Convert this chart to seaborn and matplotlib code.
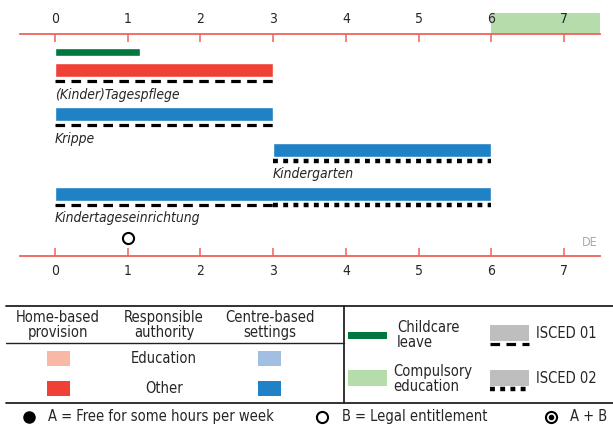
import numpy as np
import matplotlib
matplotlib.use("Agg")
import matplotlib.pyplot as plt
from matplotlib.patches import Rectangle
import seaborn as sns

# ---- data -------------------------------------------------------------
years = list(range(0, 8))
childcare_leave = (0, 1.17)          # age range in years
compulsory_start = 6

settings = ['(Kinder)Tagespflege', 'Krippe', 'Kindergarten', 'Kindertageseinrichtung']
start_age = [0, 0, 3, 0]
end_age = [3, 3, 6, 6]
setting_kind = ['home', 'centre', 'centre', 'centre']   # all "Other" authority
isced01 = [(0, 3), (0, 3), None, (0, 3)]
isced02 = [None, None, (3, 6), (3, 6)]
legal_entitlement_age = 1
country = 'DE'

# ---- styling ----------------------------------------------------------
RED = '#EF4136'
BLUE = '#1F82C6'
LIGHT_RED = '#F7B9A4'
LIGHT_BLUE = '#A3BEE3'
DARK_GREEN = '#00773F'
LIGHT_GREEN = '#B5DCAA'
GREY = '#BEBEBF'
AXIS_RED = '#F0625A'
kind_color = {'home': RED, 'centre': BLUE}

DASH = dict(lw=2.3, ls=(0, (3.0, 2.0)))
DOT = dict(lw=3.2, ls=(0, (1.1, 1.2)))

sns.set_theme(style='white')
plt.rcParams['font.family'] = ['DejaVu Sans']
plt.rcParams['font.stretch'] = 'condensed'

W, H = 613, 425
fig = plt.figure(figsize=(W / 100, H / 100), dpi=100)

# chart axes: y in pixel-like units (top spine at 34, bottom spine at 256)
y_top, y_bot = 34, 256
ax = fig.add_axes([0, 1 - y_bot / H, 1, (y_bot - y_top) / H])
px_per_year = (564 - 55) / 7
ax.set_xlim(-55 / px_per_year, (W - 55) / px_per_year)
ax.set_ylim(y_bot, y_top)
x_left, x_right = -0.48, 7.5

# compulsory education band above the top axis
ax.add_patch(Rectangle((compulsory_start, 13), x_right - compulsory_start, y_top - 13,
                       color=LIGHT_GREEN, clip_on=False, zorder=0, lw=0))

# childcare leave
ax.barh(52, childcare_leave[1] - childcare_leave[0], left=childcare_leave[0],
        height=8, color=DARK_GREEN)

row_y = [70, 114, 150, 194]
for name, s, e, kind, i1, i2, y in zip(settings, start_age, end_age, setting_kind,
                                        isced01, isced02, row_y):
    ax.barh(y, e - s, left=s, height=14, color=kind_color[kind])
    if i1:
        ax.plot(i1, [y + 11.5] * 2, color='black', solid_capstyle='butt', **DASH)
    if i2:
        ax.plot(i2, [y + 11.5] * 2, color='black', solid_capstyle='butt', **DOT)
    ax.text(s, y + 24.5, name, style='italic', fontsize=10, ha='left', va='center')

ax.plot([legal_entitlement_age], [238], marker='o', ms=8, mfc='white', mec='black',
        mew=1.5, ls='none', clip_on=False)
ax.text(7.46, 243, country, color='#AAAAAA', fontsize=9, ha='right', va='center')

for side in ['left', 'right']:
    ax.spines[side].set_visible(False)
for side in ['top', 'bottom']:
    ax.spines[side].set_color(AXIS_RED)
    ax.spines[side].set_linewidth(1.3)
    ax.spines[side].set_bounds(x_left, x_right)
ax.set_xticks(years)
ax.set_yticks([])
ax.tick_params(axis='x', direction='in', length=5.5, width=1.1, color=AXIS_RED,
               top=True, bottom=True, labeltop=True, labelbottom=True,
               labelsize=10, pad=6)

# ---- legend -----------------------------------------------------------
lax = fig.add_axes([0, 0, 1, 135 / H])
lax.set_xlim(0, W)
lax.set_ylim(H, 290)
lax.axis('off')
FS = 10.5

lax.plot([6, W], [306, 306], color='#222222', lw=1.3)
lax.plot([6, W], [403, 403], color='#222222', lw=1.3)
lax.plot([344, 344], [306, 403], color='#222222', lw=1.3)
lax.plot([6, 344], [343, 343], color='#222222', lw=1.0)

for x, t in [(58, 'Home-based\nprovision'), (164, 'Responsible\nauthority'),
             (270, 'Centre-based\nsettings')]:
    lax.text(x, 325, t, ha='center', va='center', fontsize=FS, linespacing=0.95)

for y, label, home_c, centre_c in [(359, 'Education', LIGHT_RED, LIGHT_BLUE),
                                   (389, 'Other', RED, BLUE)]:
    lax.add_patch(Rectangle((47, y - 7.5), 23, 15, color=home_c, lw=0))
    lax.add_patch(Rectangle((258, y - 7.5), 23, 15, color=centre_c, lw=0))
    lax.text(164, y, label, ha='center', va='center', fontsize=FS)

lax.add_patch(Rectangle((348, 332), 39, 7, color=DARK_GREEN, lw=0))
lax.text(397, 335, 'Childcare\nleave', ha='left', va='center', fontsize=FS, linespacing=0.95)
lax.add_patch(Rectangle((348, 370), 39, 16, color=LIGHT_GREEN, lw=0))
lax.text(393, 379, 'Compulsory\neducation', ha='left', va='center', fontsize=FS,
         linespacing=0.95)

for y, label, style in [(325, 'ISCED 01', DASH), (370, 'ISCED 02', DOT)]:
    lax.add_patch(Rectangle((490, y), 39, 16, color=GREY, lw=0))
    lax.plot([490, 529], [y + 19.5, y + 19.5], color='black', solid_capstyle='butt',
             **style)
    lax.text(536, y + 9, label, ha='left', va='center', fontsize=FS)

lax.plot([29], [417], marker='o', ms=8, color='black', ls='none', clip_on=False)
lax.text(48, 417, 'A = Free for some hours per week', ha='left', va='center', fontsize=FS)
lax.plot([322], [417], marker='o', ms=8, mfc='white', mec='black', mew=1.5,
         ls='none', clip_on=False)
lax.text(342, 417, 'B = Legal entitlement', ha='left', va='center', fontsize=FS)
lax.plot([551], [417], marker='o', ms=8, mfc='white', mec='black', mew=1.5,
         ls='none', clip_on=False)
lax.plot([551], [417], marker='o', ms=3, color='black', ls='none', clip_on=False)
lax.text(570, 417, 'A + B', ha='left', va='center', fontsize=FS)

fig.savefig('out.png', dpi=100)
